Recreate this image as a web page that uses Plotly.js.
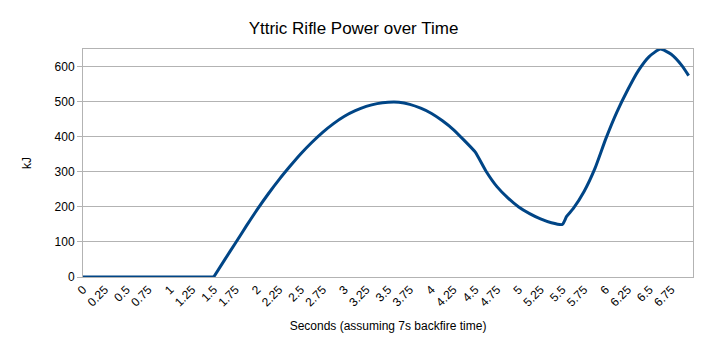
<!DOCTYPE html>
<html>
<head>
<meta charset="utf-8">
<script src="https://cdn.plot.ly/plotly-3.0.1.min.js"></script>
<style>html,body{margin:0;padding:0;background:#fff;}#chart{width:707px;height:353px;}</style>
</head>
<body>
<div id="chart"></div>
<script>
// Time in seconds
const seconds = [0, 1.5, 1.625, 1.75, 1.875, 2.0, 2.125, 2.25, 2.375, 2.5, 2.625, 2.75, 2.875, 3.0, 3.125, 3.25, 3.375, 3.5, 3.625, 3.75, 3.875, 4.0, 4.125, 4.25, 4.375, 4.5, 4.625, 4.75, 4.875, 5.0, 5.125, 5.25, 5.375, 5.5, 5.55, 5.625, 5.75, 5.875, 6.0, 6.125, 6.25, 6.375, 6.5, 6.625, 6.75, 6.875, 6.95];
// Power in kJ
const powerKJ = [0, 0, 49, 97, 146, 193, 237, 278, 316, 352, 384, 413, 438, 459, 475, 487, 495, 499, 499, 493, 482, 467, 446, 421, 390, 357, 302, 258, 226, 200, 181, 166, 155, 150, 173, 195, 244, 310, 395, 470, 534, 590, 630, 651, 636, 603, 575];
// Tick labels
const tickValues = [0,0.25,0.5,0.75,1,1.25,1.5,1.75,2,2.25,2.5,2.75,3,3.25,3.5,3.75,4,4.25,4.5,4.75,5,5.25,5.5,5.75,6,6.25,6.5,6.75];
const tickLabels = tickValues.map(v => String(v));

const font = 'Liberation Sans, Arial, sans-serif';
const lineStyle = {color: '#004586', width: 3};
Plotly.newPlot('chart', [
  { // flat part before firing
    x: seconds.slice(0, 2), y: powerKJ.slice(0, 2), type: 'scatter', mode: 'lines',
    line: Object.assign({shape: 'linear'}, lineStyle), hoverinfo: 'x+y'
  },
  { // smoothed power curve
    x: seconds.slice(1), y: powerKJ.slice(1), type: 'scatter', mode: 'lines',
    line: Object.assign({shape: 'spline', smoothing: 0.5}, lineStyle), hoverinfo: 'x+y'
  }
], {
  width: 707, height: 353,
  margin: {l: 83, r: 14, t: 49, b: 76},
  paper_bgcolor: '#fff', plot_bgcolor: '#fff',
  showlegend: false,
  font: {family: font, size: 12, color: '#000'},
  title: {text: 'Yttric Rifle Power over Time', font: {family: font, size: 17, color: '#000'}, x: 0.5, xanchor: 'center', y: 0.92, yanchor: 'middle'},
  xaxis: {
    range: [0, 7], tickmode: 'array', tickvals: tickValues, ticktext: tickLabels,
    tickangle: -45, showgrid: false, zeroline: false,
    showline: true, linecolor: '#b3b3b3', linewidth: 1, mirror: true,
    ticks: '', tickfont: {family: font, size: 12, color: '#000'},
    title: {text: 'Seconds (assuming 7s backfire time)', font: {family: font, size: 12, color: '#000'}, standoff: 13}
  },
  yaxis: {
    range: [0, 651], dtick: 100, tick0: 0,
    showgrid: true, gridcolor: '#b3b3b3', gridwidth: 1, zeroline: false,
    showline: true, linecolor: '#b3b3b3', linewidth: 1, mirror: true,
    ticks: 'outside', ticklen: 5, tickcolor: '#b3b3b3',
    tickfont: {family: font, size: 12, color: '#000'},
    title: {text: 'kJ', font: {family: font, size: 12, color: '#000'}, standoff: 20}
  }
}, {displayModeBar: false, staticPlot: true});
</script>
</body>
</html>
